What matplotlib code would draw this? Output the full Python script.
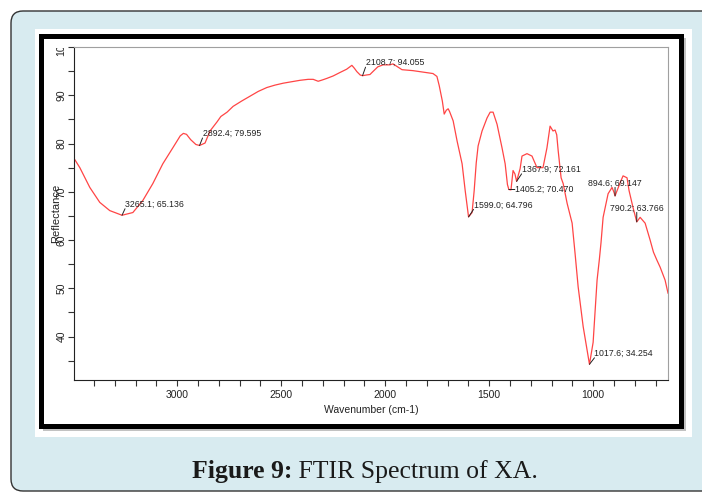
import matplotlib
matplotlib.use("Agg")
import matplotlib.pyplot as plt
from matplotlib.patches import Rectangle, FancyBboxPatch
from matplotlib.ticker import MultipleLocator, FixedLocator
from matplotlib.transforms import IdentityTransform, Bbox, TransformedBbox

W, H = 702, 493

# -- Spectrum -----------------------------------------------------------
wavenumber = [
    3497, 3468, 3420, 3372, 3324, 3265.1, 3213, 3165, 3117, 3069, 3021, 2985,
    2970, 2955, 2935, 2910, 2892.4, 2866, 2842, 2808, 2790, 2760, 2731, 2690,
    2650, 2610, 2569, 2530, 2490, 2450, 2409, 2370, 2346, 2322, 2300, 2280,
    2250, 2218, 2185, 2160, 2148, 2136, 2120, 2108.7, 2090, 2073, 2059, 2035,
    2010, 1977, 1962, 1919, 1866, 1770, 1751, 1740, 1725, 1716, 1706, 1697,
    1690, 1673, 1654, 1630, 1615, 1599.0, 1582, 1572, 1562, 1553, 1534, 1510,
    1495, 1481, 1462, 1438, 1423, 1412, 1405.2, 1395, 1385, 1376, 1367.9,
    1351, 1342, 1318, 1294, 1270, 1241, 1222, 1207, 1193, 1183, 1175, 1168,
    1154, 1144, 1125, 1101, 1087, 1072, 1048, 1017.6, 1000, 990, 981, 970,
    962, 952, 928, 909, 899, 894.6, 870, 856, 837, 827, 808, 790.2, 774, 750,
    726, 710, 693, 678, 654, 640,
]
reflectance = [
    77.0, 75.0, 70.9, 67.8, 66.1, 65.136, 65.7, 68.2, 71.7, 75.8, 79.1, 81.6,
    82.1, 81.9, 80.8, 79.8, 79.595, 80.1, 82.6, 84.5, 85.6, 86.5, 87.7, 88.8,
    89.8, 90.8, 91.6, 92.1, 92.5, 92.8, 93.1, 93.3, 93.3, 92.9, 93.2, 93.5,
    94.0, 94.7, 95.4, 96.2, 95.6, 94.9, 94.2, 94.055, 94.2, 94.3, 94.9, 95.9,
    96.3, 96.3, 96.5, 95.3, 95.1, 94.5, 93.9, 92.0, 88.8, 86.1, 86.9, 87.2,
    86.6, 84.7, 80.5, 75.8, 70.2, 64.796, 65.7, 70.2, 76.0, 79.5, 82.6, 85.3,
    86.5, 86.5, 84.0, 79.1, 75.8, 71.5, 70.470, 70.4, 74.4, 73.7, 72.161,
    74.8, 77.4, 77.9, 77.4, 75.0, 75.0, 79.1, 83.6, 82.6, 82.8, 81.8, 78.5,
    72.9, 71.7, 67.6, 63.5, 57.3, 50.3, 42.1, 34.254, 38.8, 45.6, 51.7, 56.0,
    59.5, 64.7, 69.6, 70.9, 69.8, 69.147, 71.9, 73.3, 72.9, 70.2, 66.7,
    63.766, 64.7, 63.5, 60.0, 57.5, 55.8, 54.4, 51.7, 49.0,
]

# labelled peaks
peak_wn = [3265.1, 2892.4, 2108.7, 1599.0, 1405.2, 1367.9, 1017.6, 894.6, 790.2]
peak_refl = [65.136, 79.595, 94.055, 64.796, 70.470, 72.161, 34.254, 69.147, 63.766]

x_major = [3000, 2500, 2000, 1500, 1000]
y_major = [40, 50, 60, 70, 80, 90, 100]

# label placement (pixels from the peak) and alignment
label_dx = [3, 3, 3, 5, 6, 5, 5, 0, 0]
label_dy = [11, 12, 13, 12, 0, 12, 11, 13, 14]
label_ha = ["left"] * 7 + ["center", "center"]

plt.rcParams["font.family"] = ["Liberation Sans", "DejaVu Sans"]

fig = plt.figure(figsize=(W / 100, H / 100), dpi=100, facecolor="white")
px = IdentityTransform()

# -- Page decoration: blue panel, white card, black frame -----------------
fig.patches.append(FancyBboxPatch((11, 2), 720, 480,
                                  boxstyle="round,pad=0,rounding_size=12",
                                  facecolor="#d8ebf0", edgecolor="#333333",
                                  linewidth=1.0, transform=px, zorder=-5))
fig.patches.append(Rectangle((35, 56), 657, 408, facecolor="white",
                             edgecolor="none", transform=px, zorder=-4))
fig.patches.append(Rectangle((43, 62), 643, 393, facecolor="#9a9a9a",
                             edgecolor="none", alpha=0.6, transform=px, zorder=-3))
fig.patches.append(Rectangle((40.5, 67.5), 640, 390, facecolor="white",
                             edgecolor="black", linewidth=3.6, transform=px,
                             zorder=-2))

# -- Plot ----------------------------------------------------------------
ax = fig.add_axes([74 / W, (H - 380) / H, 594 / W, 333 / H])
ax.plot(wavenumber, reflectance, color="#ff4545", linewidth=0.9)

ax.set_xlim(3496, 640)
ax.set_ylim(31, 100)
ax.xaxis.set_major_locator(FixedLocator(x_major))
ax.xaxis.set_minor_locator(MultipleLocator(100))
ax.yaxis.set_major_locator(FixedLocator(y_major))
ax.yaxis.set_minor_locator(MultipleLocator(5))

ax.tick_params(which="both", direction="out", length=4.3, width=0.8,
               color="#333333", labelsize=7.5, labelcolor="#222222")
ax.tick_params(axis="x", pad=3)
ax.tick_params(axis="y", pad=1, labelrotation=90)
plt.setp(ax.get_yticklabels(), va="center")

for side in ("left", "bottom"):
    ax.spines[side].set_color("#222222")
    ax.spines[side].set_linewidth(0.8)
for side in ("top", "right"):
    ax.spines[side].set_color("#a0a0a0")
    ax.spines[side].set_linewidth(0.8)

# the top label is cut off by the plot frame in the original
top_label = ax.yaxis.get_major_ticks()[-1].label1
top_label.set_clip_box(TransformedBbox(Bbox.from_extents(0, 0, W, H - 47.5), px))
top_label.set_clip_on(True)

ax.set_xlabel("Wavenumber (cm-1)", fontsize=7.5, color="#222222")
ax.xaxis.set_label_coords(0.5, -0.075)
ax.set_ylabel("Reflectance", fontsize=8, color="#222222")
ax.yaxis.set_label_coords(-0.021, 0.5)

for wn, r, dx, dy, ha in zip(peak_wn, peak_refl, label_dx, label_dy, label_ha):
    relpos = (0.5, 0.0) if ha == "center" else ((0.0, 0.5) if dy == 0 else (0.0, 0.0))
    ax.annotate(f"{wn:.1f}; {r:.3f}", xy=(wn, r),
                xytext=(dx * 0.72, dy * 0.72), textcoords="offset points",
                ha=ha, va="center", fontsize=6.3, color="#222222",
                arrowprops=dict(arrowstyle="-", color="#222222", lw=0.7,
                                patchA=None, shrinkA=0, shrinkB=0,
                                relpos=relpos))

# -- Caption -------------------------------------------------------------
fig.text(292 / W, 15 / H, "Figure 9:", ha="right", va="baseline",
         fontsize=18.5, fontweight="bold", family="Liberation Serif",
         color="#1a1a1a")
fig.text(292 / W, 15 / H, " FTIR Spectrum of XA.", ha="left", va="baseline",
         fontsize=18.5, family="Liberation Serif", color="#1a1a1a")

fig.savefig("out.png", dpi=100)
